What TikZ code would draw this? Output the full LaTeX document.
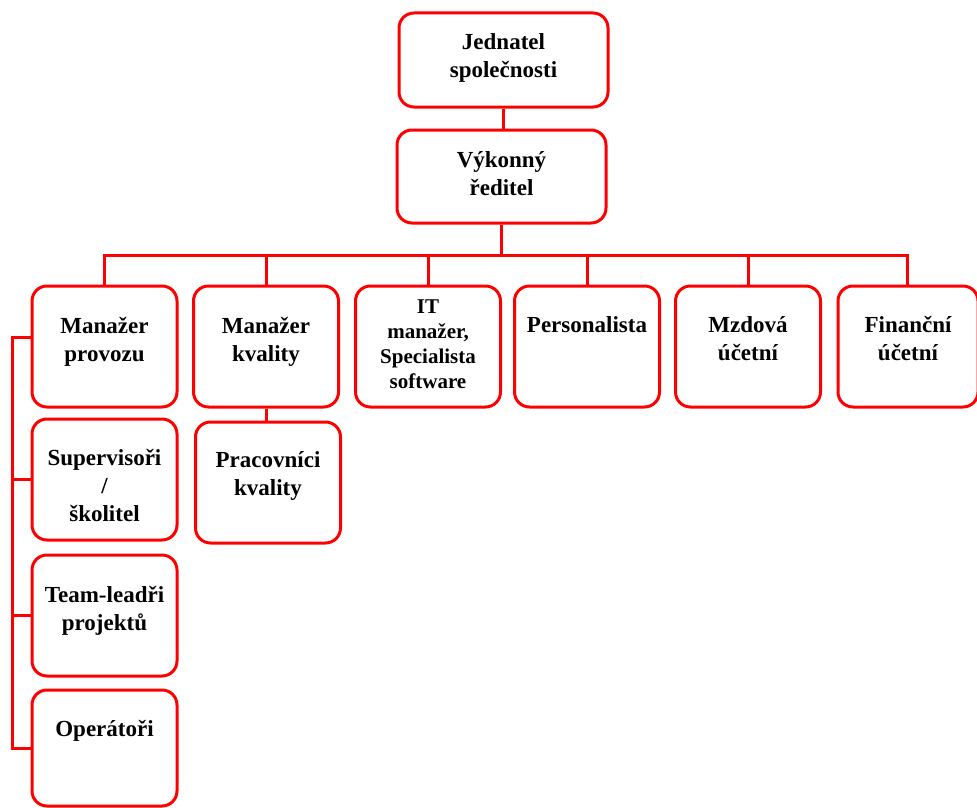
\documentclass[tikz,border=0pt]{standalone}
\usepackage{fontspec}
\setmainfont{Liberation Serif}
\newcommand\boxtxt[4]{\parbox[c][#1][t]{#2}{\centering\rule{0pt}{#3}#4}}
\tikzset{
  orgbox/.style={draw=red, line width=3pt, rounded corners=15pt, inner sep=0pt,
    minimum width=145pt, minimum height=121pt, fill=white,
    font=\fontsize{23}{28}\selectfont\bfseries},
  conn/.style={draw=red, line width=3pt},
}
\begin{document}
\begin{tikzpicture}[x=1pt, y=-1pt]
\useasboundingbox (0,0) rectangle (977,808);
% top
\node[orgbox, minimum width=209pt, minimum height=94pt] (jed) at (503.5,60) {\boxtxt{94pt}{200pt}{37pt}{Jednatel\\společnosti}};
\node[orgbox, minimum width=209pt, minimum height=93pt] (vyk) at (501.5,176.5) {\boxtxt{93pt}{200pt}{37pt}{Výkonný\\ředitel}};
% row
\node[orgbox] (b1) at (104.5,346.5) {\boxtxt{121pt}{140pt}{47pt}{Manažer\\provozu}};
\node[orgbox] (b2) at (266,346.5) {\boxtxt{121pt}{140pt}{47pt}{Manažer\\kvality}};
\node[orgbox, font=\fontsize{21}{25}\selectfont\bfseries] (b3) at (428,346.5) {\boxtxt{121pt}{140pt}{27pt}{IT\\manažer,\\Specialista\\software}};
\node[orgbox] (b4) at (587,346.5) {\boxtxt{121pt}{140pt}{46pt}{Personalista}};
\node[orgbox] (b5) at (748,346.5) {\boxtxt{121pt}{140pt}{46pt}{Mzdová\\účetní}};
\node[orgbox, minimum width=140pt] (b6) at (908,346.5) {\boxtxt{121pt}{136pt}{46pt}{Finanční\\účetní}};
% left column
\node[orgbox] (s1) at (104.5,479.5) {\boxtxt{121pt}{140pt}{46pt}{Supervisoři\\/\\školitel}};
\node[orgbox] (s2) at (104.5,615.5) {\boxtxt{121pt}{140pt}{47pt}{Team-leadři\\projektů}};
\node[orgbox, minimum height=116pt] (s3) at (104.5,748) {\boxtxt{116pt}{140pt}{46pt}{Operátoři}};
\node[orgbox] (p1) at (268,482.5) {\boxtxt{121pt}{140pt}{45pt}{Pracovníci\\kvality}};
% connectors
\coordinate (H) at (0,255);
\coordinate (L) at (12,0);
\draw[conn] (jed.south) -- (jed.south |- vyk.north);
\draw[conn] (vyk.south) -- (vyk.south |- H);
\draw[conn] (b1.north) -- (b1.north |- H) -- ([xshift=-1pt]b6.north |- H) -- ([xshift=-1pt]b6.north);
\foreach \b in {b2,b3,b4,b5} \draw[conn] (\b.north) -- (\b.north |- H);
\draw[conn] (b2.south) -- (b2.south |- p1.north);
\draw[conn] ([yshift=9pt]b1.west) -| (L |- s3.west) -- (s3.west);
\draw[conn] (s1.west) -- (L |- s1.west);
\draw[conn] (s2.west) -- (L |- s2.west);
\end{tikzpicture}
\end{document}
